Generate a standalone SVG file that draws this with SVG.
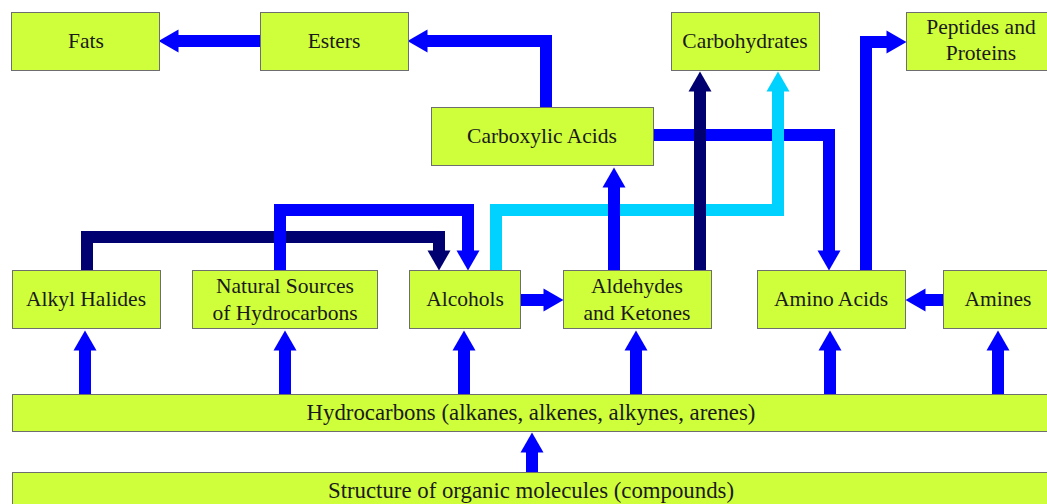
<svg xmlns="http://www.w3.org/2000/svg" width="1047" height="504" viewBox="0 0 1047 504">
<style>
.box{fill:#CFFF3A;stroke:#6e6e6e;stroke-width:1}
.t{font-family:"Liberation Serif","DejaVu Serif",serif;font-size:21.5px;fill:#1a1a1a;text-anchor:middle;dominant-baseline:central}
.w{font-size:22.8px}
.c{fill:none;stroke-width:12;stroke-linejoin:miter;stroke-linecap:butt}
.blue{stroke:#0000FF}
.navy{stroke:#000070}
.cyan{stroke:#00D2FF}
</style>
<defs>
<marker id="hb" markerUnits="userSpaceOnUse" markerWidth="22" markerHeight="24" viewBox="0 -12 20 24" refX="0.5" refY="0" orient="auto" overflow="visible"><path d="M0,-11.5 L20,0 L0,11.5 z" fill="#0000FF"/></marker>
<marker id="hn" markerUnits="userSpaceOnUse" markerWidth="22" markerHeight="24" viewBox="0 -12 20 24" refX="0.5" refY="0" orient="auto" overflow="visible"><path d="M0,-11.5 L20,0 L0,11.5 z" fill="#000070"/></marker>
<marker id="hc" markerUnits="userSpaceOnUse" markerWidth="22" markerHeight="24" viewBox="0 -12 20 24" refX="0.5" refY="0" orient="auto" overflow="visible"><path d="M0,-11.5 L20,0 L0,11.5 z" fill="#00D2FF"/></marker>
</defs>
<rect width="1047" height="504" fill="#fff"/>
<g id="connectors">
<path class="c blue" d="M260,41 H178" marker-end="url(#hb)"/>
<path class="c blue" d="M546,107 V41 H427" marker-end="url(#hb)"/>
<path class="c blue" d="M653,135 H829 V251" marker-end="url(#hb)"/>
<path class="c blue" d="M866,270 V42 H887" marker-end="url(#hb)"/>
<path class="c navy" d="M87,270 V237 H439 V251" marker-end="url(#hn)"/>
<path class="c blue" d="M280,270 V210 H468 V251" marker-end="url(#hb)"/>
<path class="c cyan" d="M496,270 V210 H778 V91" marker-end="url(#hc)"/>
<path class="c blue" d="M614,270 V187" marker-end="url(#hb)"/>
<path class="c navy" d="M700,270 V91" marker-end="url(#hn)"/>
<path class="c blue" d="M520,300 H544" marker-end="url(#hb)"/>
<path class="c blue" d="M943,300 H925" marker-end="url(#hb)"/>
<path class="c blue" d="M85,394 V350" marker-end="url(#hb)"/>
<path class="c blue" d="M285,394 V350" marker-end="url(#hb)"/>
<path class="c blue" d="M464,394 V350" marker-end="url(#hb)"/>
<path class="c blue" d="M636,394 V350" marker-end="url(#hb)"/>
<path class="c blue" d="M830,394 V350" marker-end="url(#hb)"/>
<path class="c blue" d="M998,394 V350" marker-end="url(#hb)"/>
<path class="c blue" d="M532,472 V452" marker-end="url(#hb)"/>
</g>
<g id="fats"><rect class="box" x="11.5" y="12.5" width="148" height="58"/><text class="t" x="86" y="41">Fats</text></g>
<g id="esters"><rect class="box" x="260.5" y="12.5" width="148" height="58"/><text class="t" x="334" y="41">Esters</text></g>
<g id="carbohydrates"><rect class="box" x="671.5" y="12.5" width="148" height="58"/><text class="t" x="745" y="41">Carbohydrates</text></g>
<g id="peptides"><rect class="box" x="906.5" y="12.5" width="150" height="58"/><text class="t" x="981" y="27">Peptides and</text><text class="t" x="981" y="53">Proteins</text></g>
<g id="carboxylic"><rect class="box" x="431.5" y="107.5" width="222" height="58"/><text class="t" x="542" y="136">Carboxylic Acids</text></g>
<g id="alkyl"><rect class="box" x="12.5" y="270.5" width="148" height="58"/><text class="t" x="86" y="299">Alkyl Halides</text></g>
<g id="natural"><rect class="box" x="192.5" y="270.5" width="185" height="58"/><text class="t" x="285" y="286">Natural Sources</text><text class="t" x="285" y="313">of Hydrocarbons</text></g>
<g id="alcohols"><rect class="box" x="409.5" y="270.5" width="111" height="58"/><text class="t" x="465" y="299">Alcohols</text></g>
<g id="aldehydes"><rect class="box" x="563.5" y="270.5" width="148" height="58"/><text class="t" x="637" y="286">Aldehydes</text><text class="t" x="637" y="313">and Ketones</text></g>
<g id="amino"><rect class="box" x="757.5" y="270.5" width="148" height="58"/><text class="t" x="831" y="299">Amino Acids</text></g>
<g id="amines"><rect class="box" x="943.5" y="270.5" width="110" height="58"/><text class="t" x="998" y="299">Amines</text></g>
<g id="hydrocarbons"><rect class="box" x="12.5" y="394.5" width="1045" height="37"/><text class="t w" x="531" y="412">Hydrocarbons (alkanes, alkenes, alkynes, arenes)</text></g>
<g id="structure"><rect class="box" x="12.5" y="472.5" width="1045" height="40"/><text class="t w" x="531" y="490">Structure of organic molecules (compounds)</text></g>
</svg>
